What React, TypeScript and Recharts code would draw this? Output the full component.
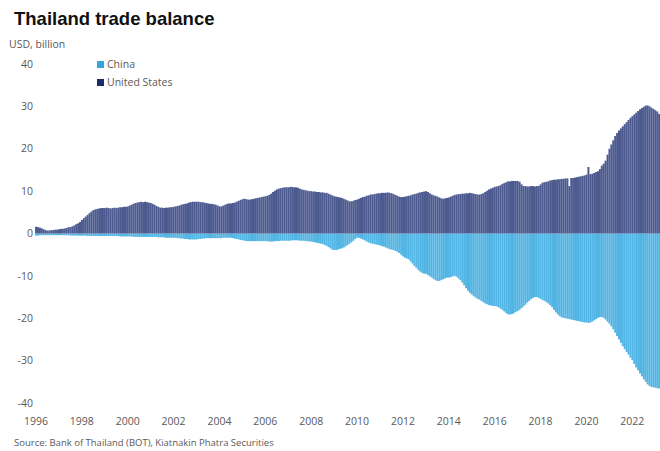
import { BarChart, Bar, XAxis, YAxis } from 'recharts';

// 12-month rolling trade balance, USD billion, one row per year (Jan..Dec)
const years = [
    1996, 1997, 1998, 1999, 2000, 2001, 2002, 2003, 2004, 2005, 2006, 2007, 2008, 2009,
    2010, 2011, 2012, 2013, 2014, 2015, 2016, 2017, 2018, 2019, 2020, 2021, 2022, 2023,
];

const unitedStates = [
    [1.6, 1.5, 1.4, 1.2, 1.0, 0.8, 0.7, 0.7, 0.8, 0.8, 0.9, 0.9],
    [1.0, 1.1, 1.1, 1.2, 1.3, 1.5, 1.5, 1.7, 1.9, 2.2, 2.4, 2.7],
    [3.2, 3.6, 4.0, 4.4, 4.8, 5.2, 5.5, 5.7, 5.8, 5.9, 6.0, 6.0],
    [6.0, 6.1, 6.0, 5.9, 6.0, 6.1, 6.0, 6.1, 6.2, 6.2, 6.3, 6.3],
    [6.4, 6.6, 6.8, 7.0, 7.2, 7.3, 7.4, 7.5, 7.4, 7.5, 7.4, 7.3],
    [7.2, 7.0, 6.8, 6.5, 6.3, 6.1, 6.1, 6.0, 6.1, 6.1, 6.2, 6.2],
    [6.3, 6.4, 6.5, 6.6, 6.8, 6.9, 7.0, 7.1, 7.3, 7.4, 7.5, 7.5],
    [7.5, 7.5, 7.4, 7.4, 7.3, 7.2, 7.1, 7.0, 7.0, 6.9, 6.8, 6.6],
    [6.4, 6.4, 6.6, 6.8, 7.0, 7.1, 7.1, 7.2, 7.3, 7.5, 7.7, 7.9],
    [8.1, 8.2, 8.1, 8.0, 8.0, 8.1, 8.2, 8.3, 8.4, 8.5, 8.6, 8.7],
    [8.8, 8.9, 9.1, 9.4, 9.8, 10.1, 10.4, 10.6, 10.7, 10.8, 10.9, 10.9],
    [10.9, 11.0, 11.0, 10.9, 10.9, 10.8, 10.6, 10.4, 10.3, 10.2, 10.1, 10.0],
    [10.0, 9.9, 9.9, 9.8, 9.8, 9.7, 9.7, 9.6, 9.6, 9.4, 9.2, 9.0],
    [8.8, 8.7, 8.6, 8.5, 8.4, 8.2, 8.0, 7.8, 7.6, 7.6, 7.7, 7.9],
    [8.0, 8.2, 8.4, 8.6, 8.7, 8.9, 9.0, 9.2, 9.2, 9.3, 9.4, 9.5],
    [9.5, 9.6, 9.6, 9.6, 9.7, 9.6, 9.5, 9.3, 9.1, 8.9, 8.7, 8.6],
    [8.6, 8.7, 8.8, 8.9, 9.0, 9.2, 9.3, 9.4, 9.6, 9.7, 9.8, 9.9],
    [10.0, 9.8, 9.5, 9.2, 9.0, 8.9, 8.7, 8.5, 8.3, 8.2, 8.3, 8.4],
    [8.5, 8.7, 8.9, 9.1, 9.2, 9.3, 9.3, 9.4, 9.4, 9.5, 9.5, 9.6],
    [9.5, 9.4, 9.3, 9.2, 9.2, 9.3, 9.5, 9.8, 10.1, 10.4, 10.6, 10.8],
    [11.0, 11.1, 11.2, 11.4, 11.7, 11.9, 12.1, 12.3, 12.3, 12.4, 12.4, 12.4],
    [12.4, 12.2, 11.6, 11.2, 11.2, 11.1, 11.1, 11.2, 11.2, 11.1, 11.2, 11.2],
    [11.6, 12.0, 12.1, 12.2, 12.3, 12.5, 12.6, 12.7, 12.7, 12.8, 12.8, 12.9],
    [12.9, 13.0, 13.0, 11.2, 13.1, 13.1, 13.2, 13.3, 13.4, 13.5, 13.6, 13.7],
    [13.9, 15.7, 14.0, 14.1, 14.3, 14.5, 14.7, 15.2, 16.0, 16.5, 17.2, 18.6],
    [20.0, 21.0, 22.0, 23.0, 23.7, 24.3, 24.8, 25.3, 25.8, 26.3, 26.8, 27.3],
    [27.7, 28.1, 28.5, 28.9, 29.3, 29.6, 29.9, 30.2, 30.2, 30.0, 29.7, 29.4],
    [29.1, 28.8, 28.2],
];

const china = [
    [-0.5, -0.5, -0.4, -0.4, -0.4, -0.4, -0.4, -0.4, -0.4, -0.4, -0.4, -0.4],
    [-0.4, -0.4, -0.4, -0.4, -0.4, -0.4, -0.5, -0.5, -0.5, -0.5, -0.5, -0.5],
    [-0.5, -0.5, -0.5, -0.6, -0.6, -0.6, -0.6, -0.6, -0.6, -0.6, -0.6, -0.6],
    [-0.6, -0.6, -0.6, -0.6, -0.6, -0.6, -0.6, -0.6, -0.7, -0.7, -0.7, -0.7],
    [-0.7, -0.7, -0.7, -0.8, -0.8, -0.8, -0.8, -0.8, -0.8, -0.8, -0.8, -0.8],
    [-0.8, -0.8, -0.8, -0.8, -0.9, -0.9, -0.9, -0.9, -1.0, -1.0, -1.0, -1.0],
    [-1.0, -1.0, -1.1, -1.1, -1.2, -1.2, -1.3, -1.3, -1.4, -1.4, -1.4, -1.4],
    [-1.4, -1.3, -1.3, -1.2, -1.2, -1.1, -1.1, -1.1, -1.1, -1.1, -1.1, -1.1],
    [-1.1, -1.1, -1.0, -1.0, -1.0, -1.0, -1.0, -1.1, -1.2, -1.3, -1.4, -1.5],
    [-1.6, -1.7, -1.8, -1.8, -1.8, -1.8, -1.8, -1.8, -1.8, -1.8, -1.8, -1.8],
    [-1.8, -1.8, -1.9, -1.9, -1.9, -1.8, -1.8, -1.8, -1.7, -1.7, -1.7, -1.7],
    [-1.7, -1.7, -1.6, -1.6, -1.6, -1.6, -1.7, -1.7, -1.7, -1.8, -1.8, -1.9],
    [-1.9, -2.0, -2.1, -2.2, -2.3, -2.4, -2.5, -2.7, -2.9, -3.2, -3.5, -3.8],
    [-3.9, -3.9, -3.8, -3.6, -3.5, -3.3, -3.0, -2.7, -2.4, -2.1, -1.7, -1.3],
    [-1.0, -1.0, -1.2, -1.4, -1.6, -1.9, -2.1, -2.3, -2.4, -2.5, -2.6, -2.7],
    [-2.8, -3.0, -3.1, -3.3, -3.5, -3.7, -3.8, -3.9, -4.1, -4.3, -4.6, -5.0],
    [-5.4, -5.7, -5.9, -6.1, -6.6, -7.1, -7.7, -8.1, -8.6, -9.0, -9.3, -9.5],
    [-9.5, -9.8, -10.1, -10.4, -10.7, -11.0, -11.2, -11.2, -11.0, -10.8, -10.6, -10.4],
    [-10.4, -10.3, -10.1, -10.0, -10.2, -10.6, -11.0, -11.6, -12.2, -12.9, -13.5, -14.0],
    [-14.4, -14.8, -15.1, -15.4, -15.6, -15.9, -16.2, -16.5, -16.7, -16.9, -17.0, -17.1],
    [-17.1, -17.2, -17.4, -17.7, -18.0, -18.4, -18.8, -19.1, -19.1, -19.0, -18.8, -18.5],
    [-18.3, -18.0, -17.6, -17.2, -16.8, -16.3, -15.9, -15.5, -15.2, -15.0, -15.0, -15.2],
    [-15.4, -15.7, -15.9, -16.2, -16.5, -16.9, -17.4, -18.0, -18.6, -19.1, -19.5, -19.8],
    [-19.9, -20.0, -20.1, -20.2, -20.3, -20.4, -20.5, -20.6, -20.7, -20.8, -20.9, -21.0],
    [-21.0, -21.1, -21.0, -20.8, -20.5, -20.2, -19.9, -19.7, -19.7, -19.9, -20.3, -20.8],
    [-21.3, -21.9, -22.6, -23.4, -24.2, -25.0, -25.8, -26.6, -27.3, -28.0, -28.6, -29.3],
    [-29.9, -30.8, -31.6, -32.3, -33.0, -33.7, -34.4, -35.0, -35.6, -36.0, -36.2, -36.3],
    [-36.4, -36.5, -36.6],
];

const yTicks = [-40, -30, -20, -10, 0, 10, 20, 30, 40];

const COLORS = {
    china: '#2fa6de',
    us: '#1c2b6b',
    chinaBar: '#52b5e4',
    usBar: '#4c5a8f',
    text: '#595959',
};

const FONT = '"Open Sans", "DejaVu Sans", sans-serif';

const data = years.flatMap((year, i) =>
    unitedStates[i].map((us, m) => ({
        month: `${year}-${String(m + 1).padStart(2, '0')}`,
        us,
        china: china[i][m],
    }))
);

const LegendItem = ({ color, label, top }: { color: string; label: string; top: number }) => (
    <div style={{ position: 'absolute', left: 97, top, display: 'flex', alignItems: 'center' }}>
        <span style={{ width: 7, height: 7, background: color, display: 'inline-block', marginRight: 3 }} />
        <span style={{ fontSize: 10.5, color: COLORS.text, fontFamily: FONT }}>{label}</span>
    </div>
);

export default function App() {
    return (
        <div style={{ position: 'absolute', left: 0, top: 0, width: 660, height: 451, background: '#fff', overflow: 'hidden' }}>
            <div
                style={{
                    position: 'absolute', left: 14, top: 8,
                    fontFamily: '"Liberation Sans", Arial, sans-serif',
                    fontWeight: 700, fontSize: 18.5, color: '#111',
                }}
            >
                Thailand trade balance
            </div>
            <div style={{ position: 'absolute', left: 9, top: 37, fontFamily: FONT, fontSize: 10.5, color: COLORS.text }}>
                USD, billion
            </div>

            <BarChart
                width={660}
                height={451}
                data={data}
                stackOffset="sign"
                barCategoryGap="3%"
                margin={{ top: 64, right: 0, bottom: 18, left: 0 }}
                style={{ position: 'absolute', left: 0, top: 0 }}
            >
                <XAxis
                    dataKey="month"
                    interval={23}
                    tickFormatter={(v: string) => v.slice(0, 4)}
                    axisLine={false}
                    tickLine={false}
                    tickSize={0}
                    tickMargin={15}
                    height={30}
                    tick={{ fontSize: 10.5, fill: COLORS.text, fontFamily: FONT }}
                />
                <YAxis
                    type="number"
                    domain={[-40, 40]}
                    ticks={yTicks}
                    interval={0}
                    axisLine={false}
                    tickLine={false}
                    tickSize={0}
                    tickMargin={2}
                    width={35}
                    tick={{ fontSize: 10.5, fill: COLORS.text, fontFamily: FONT }}
                />
                <Bar dataKey="china" stackId="a" fill={COLORS.chinaBar} isAnimationActive={false} />
                <Bar dataKey="us" stackId="a" fill={COLORS.usBar} isAnimationActive={false} />
            </BarChart>

            <LegendItem color={COLORS.china} label="China" top={57} />
            <LegendItem color={COLORS.us} label="United States" top={75} />

            <div style={{ position: 'absolute', left: 14, top: 436, fontFamily: FONT, fontSize: 9.5, color: COLORS.text }}>
                Source: Bank of Thailand (BOT), Kiatnakin Phatra Securities
            </div>
        </div>
    );
}
